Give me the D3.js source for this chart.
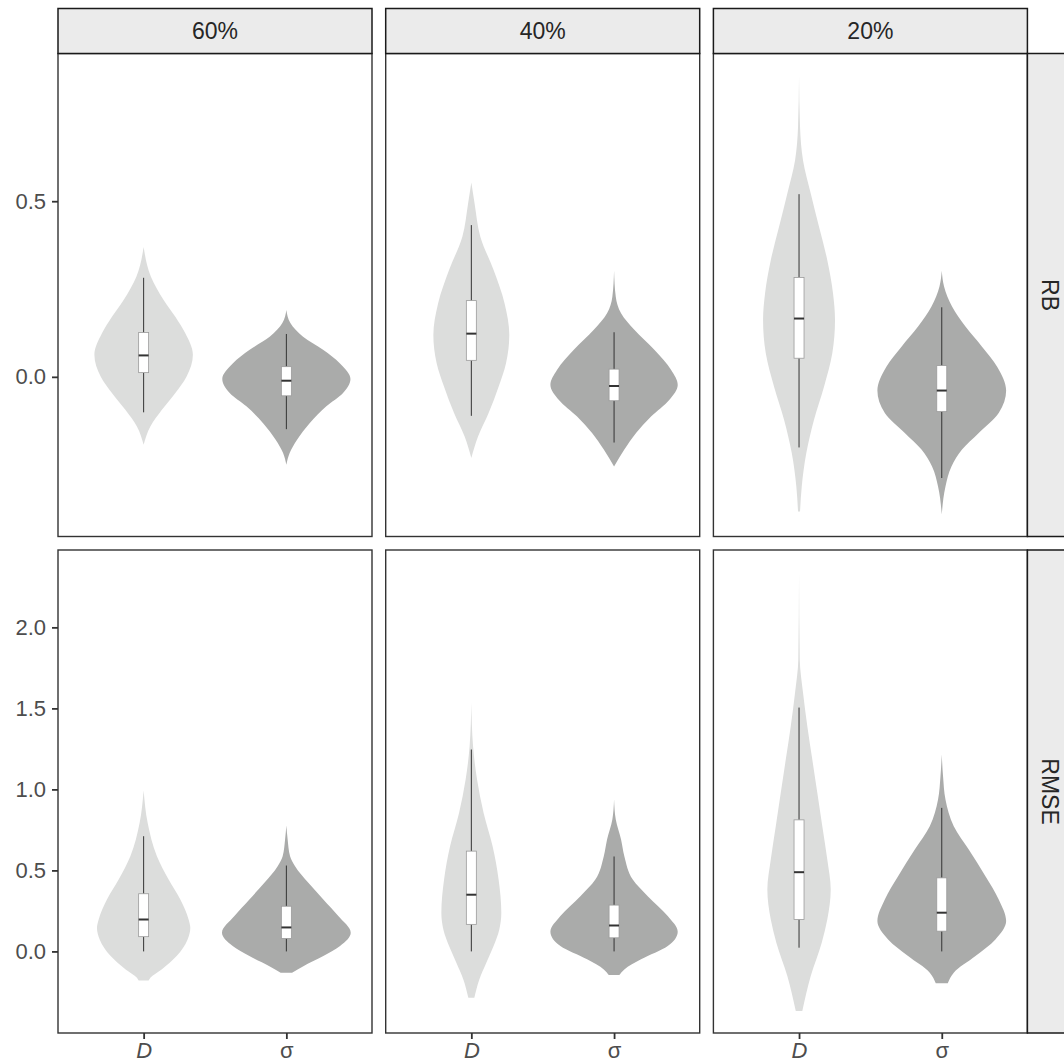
<!DOCTYPE html>
<html>
<head>
<meta charset="utf-8">
<script src="https://cdn.jsdelivr.net/npm/d3@7/dist/d3.min.js"></script>
<style>
  body { margin: 0; background: #fff; }
  text { font-family: "Liberation Sans", Arial, sans-serif; }
</style>
</head>
<body>
<div id="chart"></div>
<script>
// facets and categories
const colLabels = ['60%', '40%', '20%'];
const rowLabels = ['RB', 'RMSE'];
const paramLabels = ['D', 'σ'];

// tick values per row
const rbTicks = [0, 0.5];
const rmseTicks = [0, 0.5, 1, 1.5, 2];

// violin outlines: [value, half width in category units]
const rb60D = [[0.370, 0], [0.285, 0.051], [0.219, 0.140], [0.171, 0.222], [0.124, 0.292], [0.063, 0.345],
  [0.001, 0.301], [-0.046, 0.222], [-0.094, 0.128], [-0.141, 0.047], [-0.193, 0]];
const rb60S = [[0.190, 0], [0.153, 0.028], [0.114, 0.117], [0.077, 0.257], [0.039, 0.374], [-0.006, 0.449],
  [-0.046, 0.397], [-0.084, 0.280], [-0.132, 0.163], [-0.179, 0.075], [-0.217, 0.023], [-0.250, 0]];
const rb40D = [[0.553, 0], [0.493, 0.023], [0.399, 0.063], [0.304, 0.156], [0.209, 0.233], [0.119, 0.266],
  [0.039, 0.243], [-0.028, 0.191], [-0.103, 0.121], [-0.170, 0.047], [-0.231, 0]];
const rb40S = [[0.302, 0], [0.228, 0.012], [0.181, 0.049], [0.134, 0.142], [0.077, 0.282], [0.020, 0.399],
  [-0.023, 0.446], [-0.065, 0.388], [-0.113, 0.259], [-0.160, 0.154], [-0.207, 0.072], [-0.255, 0]];
const rb20D = [[0.858, 0], [0.711, 0.007], [0.616, 0.028], [0.522, 0.082], [0.427, 0.140], [0.332, 0.198],
  [0.238, 0.238], [0.162, 0.252], [0.067, 0.233], [-0.028, 0.175], [-0.122, 0.105], [-0.217, 0.051],
  [-0.312, 0.019], [-0.383, 0.007]];
const rb20S = [[0.302, 0], [0.257, 0.016], [0.200, 0.072], [0.143, 0.166], [0.086, 0.282], [0.029, 0.388],
  [-0.039, 0.451], [-0.103, 0.399], [-0.160, 0.259], [-0.207, 0.142], [-0.255, 0.068], [-0.312, 0.026],
  [-0.392, 0]];

const rmse60D = [[0.993, 0], [0.794, 0.028], [0.588, 0.093], [0.444, 0.175], [0.321, 0.257], [0.197, 0.315],
  [0.146, 0.327], [0.074, 0.308], [-0.029, 0.231], [-0.111, 0.126], [-0.162, 0.047], [-0.179, 0.035]];
const rmse60S = [[0.777, 0], [0.691, 0.009], [0.588, 0.026], [0.526, 0.061], [0.424, 0.154], [0.321, 0.259],
  [0.218, 0.364], [0.115, 0.451], [0.033, 0.376], [-0.029, 0.259], [-0.091, 0.119], [-0.131, 0.040]];
const rmse40D = [[1.534, 0], [1.266, 0.012], [1.061, 0.040], [0.855, 0.086], [0.649, 0.149], [0.444, 0.191],
  [0.239, 0.210], [0.136, 0.196], [0.033, 0.156], [-0.070, 0.105], [-0.173, 0.056], [-0.286, 0.021]];
const rmse40S = [[0.937, 0], [0.814, 0.012], [0.691, 0.049], [0.588, 0.072], [0.444, 0.131], [0.341, 0.236],
  [0.218, 0.376], [0.121, 0.446], [0.033, 0.376], [-0.049, 0.189], [-0.111, 0.072], [-0.146, 0.037]];
const rmse20D = [[2.342, 0], [1.801, 0.005], [1.596, 0.028], [1.390, 0.058], [1.184, 0.093], [0.979, 0.128],
  [0.773, 0.163], [0.567, 0.198], [0.382, 0.222], [0.197, 0.198], [0.054, 0.159], [-0.152, 0.082],
  [-0.368, 0.023]];
const rmse20S = [[1.215, 0], [1.081, 0.009], [0.937, 0.026], [0.773, 0.084], [0.629, 0.189], [0.464, 0.306],
  [0.321, 0.399], [0.187, 0.451], [0.074, 0.376], [-0.029, 0.236], [-0.131, 0.084], [-0.197, 0.042]];

// boxplots: [lower whisker, q1, median, q3, upper whisker]
const rbBoxes = [
  [[-0.101, 0.012, 0.061, 0.126, 0.282], [-0.149, -0.054, -0.011, 0.029, 0.122]],
  [[-0.111, 0.047, 0.123, 0.217, 0.432], [-0.187, -0.068, -0.026, 0.022, 0.127]],
  [[-0.201, 0.053, 0.166, 0.283, 0.520], [-0.288, -0.099, -0.039, 0.032, 0.198]]
];
const rmseBoxes = [
  [[0.0, 0.091, 0.197, 0.356, 0.711], [0.0, 0.080, 0.148, 0.279, 0.530]],
  [[0.0, 0.167, 0.350, 0.619, 1.246], [0.0, 0.084, 0.160, 0.286, 0.586]],
  [[0.023, 0.197, 0.489, 0.812, 1.505], [0.0, 0.125, 0.239, 0.454, 0.886]]
];

const rbViolins = [[rb60D, rb60S], [rb40D, rb40S], [rb20D, rb20S]];
const rmseViolins = [[rmse60D, rmse60S], [rmse40D, rmse40S], [rmse20D, rmse20S]];

// svg definitions
let svgWidth = 1064;
let svgHeight = 1063;

let margin = { top: 53.5, left: 58 };
let panelW = 314;
let panelH = 483;
let gapX = 13.7;
let gapY = 13.5;
let stripH = 45;

let violinFill = ['#dcdddc', '#aaabaa'];
let boxWidth = 0.07;

let svg = d3.select('#chart')
  .append('svg')
  .attr('width', svgWidth)
  .attr('height', svgHeight);

// x scale, discrete positions 1 and 2 with ggplot's 0.6 expansion
let x = d3.scaleLinear().domain([0.4, 2.6]).range([0, panelW]);

let rows = [
  { label: rowLabels[0], violins: rbViolins, boxes: rbBoxes, ticks: rbTicks },
  { label: rowLabels[1], violins: rmseViolins, boxes: rmseBoxes, ticks: rmseTicks }
];

rows.forEach(function(row, ri) {
  // y domain from the data with 5% expansion
  let vals = [];
  row.violins.forEach(c => c.forEach(v => v.forEach(p => vals.push(p[0]))));
  row.boxes.forEach(c => c.forEach(b => b.forEach(p => vals.push(p))));
  let lo = d3.min(vals), hi = d3.max(vals);
  let pad = (hi - lo) * 0.05;
  let top = margin.top + ri * (panelH + gapY);

  let y = d3.scaleLinear().domain([lo - pad, hi + pad]).range([panelH, 0]);

  colLabels.forEach(function(col, ci) {
    let left = margin.left + ci * (panelW + gapX);
    let g = svg.append('g').attr('transform', `translate(${left}, ${top})`);

    g.append('rect')
      .attr('width', panelW)
      .attr('height', panelH)
      .attr('fill', '#fff');

    // violins
    row.violins[ci].forEach(function(outline, pi) {
      let pos = pi + 1;
      let area = d3.area()
        .curve(d3.curveMonotoneY)
        .y(d => y(d[0]))
        .x0(d => x(pos - d[1]))
        .x1(d => x(pos + d[1]));
      g.append('path')
        .datum(outline)
        .attr('d', area)
        .attr('fill', violinFill[pi]);
    });

    // boxplots
    row.boxes[ci].forEach(function(b, pi) {
      let pos = pi + 1;
      g.append('line')
        .attr('x1', x(pos)).attr('x2', x(pos))
        .attr('y1', y(b[0])).attr('y2', y(b[1]))
        .attr('stroke', '#333').attr('stroke-width', 1);
      g.append('line')
        .attr('x1', x(pos)).attr('x2', x(pos))
        .attr('y1', y(b[3])).attr('y2', y(b[4]))
        .attr('stroke', '#333').attr('stroke-width', 1);
      g.append('rect')
        .attr('x', x(pos - boxWidth / 2))
        .attr('y', y(b[3]))
        .attr('width', x(pos + boxWidth / 2) - x(pos - boxWidth / 2))
        .attr('height', y(b[1]) - y(b[3]))
        .attr('fill', '#fff')
        .attr('stroke', '#9b9b9b')
        .attr('stroke-width', 0.8);
      g.append('line')
        .attr('x1', x(pos - boxWidth / 2)).attr('x2', x(pos + boxWidth / 2))
        .attr('y1', y(b[2])).attr('y2', y(b[2]))
        .attr('stroke', '#333').attr('stroke-width', 2);
    });

    // panel border
    g.append('rect')
      .attr('width', panelW)
      .attr('height', panelH)
      .attr('fill', 'none')
      .attr('stroke', '#333')
      .attr('stroke-width', 1.4);

    // column strips on the first row
    if (ri === 0) {
      let strip = svg.append('g').attr('transform', `translate(${left}, ${top - stripH})`);
      strip.append('rect')
        .attr('width', panelW)
        .attr('height', stripH)
        .attr('fill', '#ebebeb')
        .attr('stroke', '#1a1a1a')
        .attr('stroke-width', 1.5);
      strip.append('text')
        .attr('x', panelW / 2)
        .attr('y', stripH / 2)
        .attr('dy', '0.35em')
        .attr('text-anchor', 'middle')
        .attr('font-size', '23px')
        .attr('fill', '#262626')
        .text(col);
    }

    // y axis on the first column
    if (ci === 0) {
      let yAxis = g.append('g')
        .call(d3.axisLeft(y).tickValues(row.ticks).tickFormat(d3.format('.1f')).tickSize(6).tickPadding(6));
      yAxis.select('.domain').remove();
      yAxis.selectAll('line').attr('stroke', '#333').attr('stroke-width', 1.8);
      yAxis.selectAll('text')
        .attr('font-size', '22px')
        .attr('fill', '#4d4d4d')
        .style('font-family', '"Liberation Sans", Arial, sans-serif');
    }

    // x axis on the bottom row
    if (ri === rows.length - 1) {
      let xAxis = g.append('g')
        .attr('transform', `translate(0, ${panelH})`)
        .call(d3.axisBottom(x).tickValues([1, 2]).tickFormat(d => paramLabels[d - 1]).tickSize(6).tickPadding(3));
      xAxis.select('.domain').remove();
      xAxis.selectAll('line').attr('stroke', '#333').attr('stroke-width', 1.8);
      xAxis.selectAll('text')
        .attr('font-size', '22px')
        .attr('fill', '#4d4d4d')
        .style('font-family', '"Liberation Sans", Arial, sans-serif')
        .style('font-style', d => d === 1 ? 'italic' : 'normal');
    }
  });

  // row strip on the right
  let stripLeft = margin.left + 3 * panelW + 2 * gapX;
  let rs = svg.append('g').attr('transform', `translate(${stripLeft}, ${top})`);
  rs.append('rect')
    .attr('width', stripH)
    .attr('height', panelH)
    .attr('fill', '#ebebeb')
    .attr('stroke', '#1a1a1a')
    .attr('stroke-width', 1.5);
  rs.append('text')
    .attr('transform', `translate(${stripH / 2}, ${panelH / 2}) rotate(90)`)
    .attr('dy', '0.35em')
    .attr('text-anchor', 'middle')
    .attr('font-size', '23px')
    .attr('fill', '#262626')
    .text(row.label);
});
</script>
</body>
</html>
